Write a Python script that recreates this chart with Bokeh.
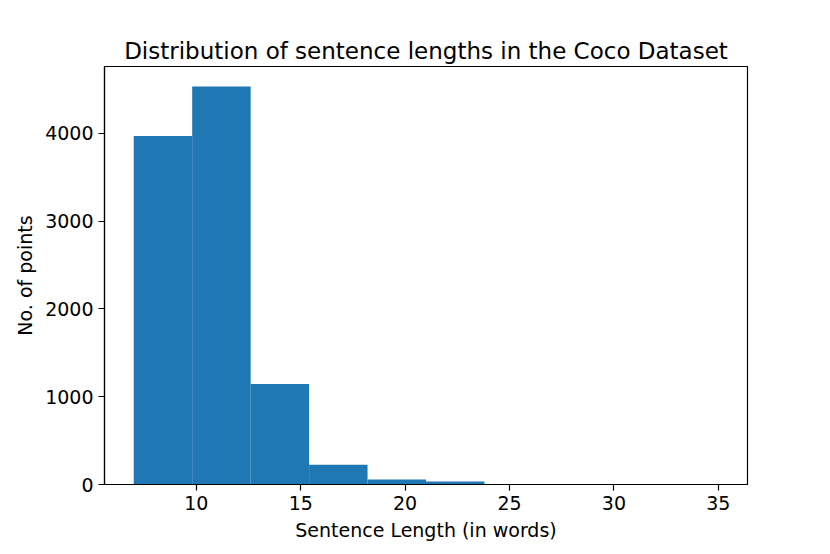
from bokeh.plotting import figure
from bokeh.models import Range1d, FixedTicker
from bokeh.embed import file_html
from bokeh.resources import INLINE

# Histogram data (sentence lengths in words)
bin_edges = [7.0, 9.8, 12.6, 15.4, 18.2, 21.0, 23.8, 26.6, 29.4, 32.2, 35.0]
counts = [3970, 4535, 1146, 226, 57, 34, 6, 3, 1, 1]
x_ticks = [10, 15, 20, 25, 30, 35]
y_ticks = [0, 1000, 2000, 3000, 4000]

FONT = "DejaVu Sans"

x_lo, x_hi = bin_edges[0], bin_edges[-1]
pad = 0.05 * (x_hi - x_lo)
y_hi = max(counts) * 1.05

p = figure(width=822, height=546, output_backend="svg", toolbar_location=None,
           x_range=Range1d(x_lo - pad, x_hi + pad), y_range=Range1d(0, y_hi),
           title="Distribution of sentence lengths in the Coco Dataset",
           frame_width=643, frame_height=418,
           min_border_left=104, min_border_right=75, min_border_top=66, min_border_bottom=62)

p.quad(left=bin_edges[:-1], right=bin_edges[1:], bottom=0, top=counts,
       fill_color="#1f77b4", line_color=None)

p.title.align = "center"
p.title.text_font = FONT
p.title.text_font_size = "23px"
p.title.text_font_style = "normal"
p.title.text_color = "black"
p.title.standoff = 6

p.xgrid.visible = False
p.ygrid.visible = False
p.outline_line_color = "black"
p.outline_line_width = 1.2
p.outline_line_alpha = 1.0

p.xaxis.ticker = FixedTicker(ticks=x_ticks)
p.yaxis.ticker = FixedTicker(ticks=y_ticks)
p.xaxis.axis_label = "Sentence Length (in words)"
p.yaxis.axis_label = "No. of points"

for ax in (p.xaxis, p.yaxis):
    ax.axis_label_text_font = FONT
    ax.axis_label_text_font_size = "19px"
    ax.axis_label_text_font_style = "normal"
    ax.axis_label_text_color = "black"
    ax.major_label_text_font = FONT
    ax.major_label_text_font_size = "19px"
    ax.major_label_text_color = "black"
    ax.major_tick_out = 6
    ax.major_tick_in = 0
    ax.major_tick_line_color = "black"
    ax.major_tick_line_width = 1.2
    ax.minor_tick_line_color = None
    ax.axis_line_color = "black"
    ax.axis_line_width = 1.2
    ax.major_label_standoff = 5
    ax.axis_label_standoff = 6

p.background_fill_color = "white"
p.border_fill_color = "white"

open("out.html", "w").write(file_html(p, INLINE))
